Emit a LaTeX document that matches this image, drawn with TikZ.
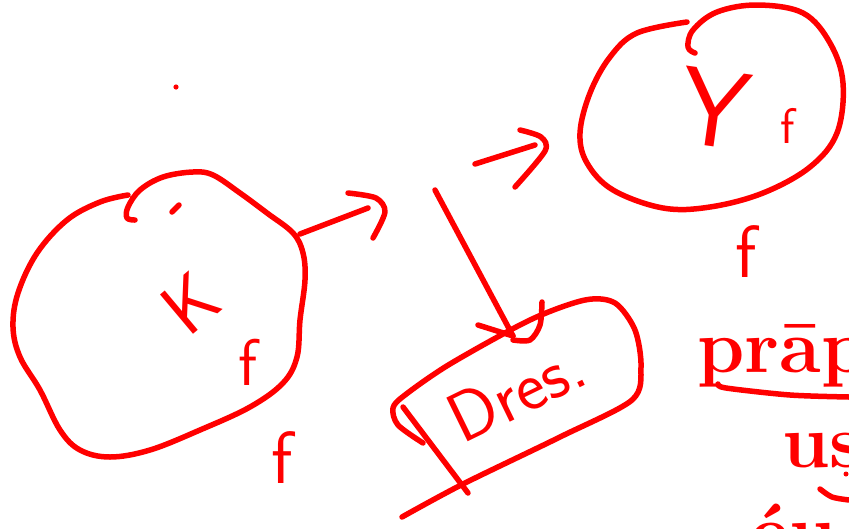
\documentclass[tikz,border=0pt]{standalone}
\usepackage{xcolor}
\usepackage{tikz}
\usetikzlibrary{positioning}
\definecolor{PENred}{RGB}{255,0,0}
\tikzset{
  pen/.style={draw=PENred, line width=5.5pt, line cap=round, line join=round},
  hand/.style={text=PENred, inner sep=0pt, font=\sffamily\fontsize{#1}{#1}\selectfont},
  print/.style={text=PENred, inner sep=0pt, anchor=base west, font=\bfseries\fontsize{76}{76}\selectfont}
}

\begin{document}
\begin{tikzpicture}[x=1pt, y=-1pt]
        \useasboundingbox (0,0) rectangle (849,528);
        % K blob
        \draw[pen] plot[smooth, tension=0.6] coordinates {(128,195) (100,202) (67,220) (37,253) (18,293)
          (13,327) (20,357) (40,390) (60,430) (80,450) (110,457) (150,450) (200,430) (250,407)
          (283,383) (297,357) (300,320) (305,280) (303,253) (293,233) (267,213) (240,193) (213,175)
          (193,172) (163,177) (140,190) (128,207) (127,218) (135,220)};
        \draw[pen] (172,212) -- (179,205);
        \fill[PENred] (176,87) circle (2.6pt);
        \node[hand=74, rotate=40] (klabel) at (190,303) {K};
        \node[hand=66] (ksub) at (248,362) {f};
        \node[hand=74] (kf) at (282,458) {f};
        % Y blob
        \draw[pen] plot[smooth, tension=0.6] coordinates {(687,22) (637,33) (610,57) (590,93) (580,133)
          (587,163) (613,190) (663,208) (710,207) (763,193) (810,167) (837,133) (843,83) (830,43)
          (803,13) (757,5) (717,12) (693,30) (688,47) (695,53)};
        \node[hand=110, rotate=-8] (ylabel) at (715,108) {Y};
        \node[hand=50] (ysub) at (788,126) {f};
        \node[hand=74] (yf) at (746,252) {f};
        % arrows
        \coordinate (kout) at (300,234);
        \coordinate (ktip) at (368,208);
        \draw[pen] (kout) -- (ktip);
        \draw[pen] plot[smooth] coordinates {(348,193) (376,198) (385,212) (373,238)};
        \coordinate (ystart) at (475,164);
        \coordinate (ytip) at (535,145);
        \draw[pen] (ystart) -- (ytip);
        \draw[pen] plot[smooth] coordinates {(520,130) (541,137) (545,151) (515,187)};
        \coordinate (dstart) at (435,190);
        \coordinate (dtip) at (513,336);
        \draw[pen] (dstart) -- (dtip);
        \draw[pen] (478,325) -- (dtip);
        \draw[pen] plot[smooth] coordinates {(542,302) (540,325) (530,340) (513,340)};
        % Dres box
        \draw[pen] plot[smooth, tension=0.5] coordinates {(423,443) (398,425) (393,408) (405,395)
          (450,364) (530,320) (585,300) (615,303) (635,330) (641,367) (632,400) (560,437)
          (463,484) (402,517)};
        \draw[pen] (403,407) -- (468,493);
        \node[hand=70, rotate=26] (dres) at (516,392) {Dres.};
        % printed text
        \node[print] (word1) at (697,372) {prāp};
        \node[print] (word2) at (782,467) {us};
        \node[print] (word3) at (750,557) {éu};
        \draw[pen] plot[smooth] coordinates {(718,384) (726,388) (790,395) (849,397)};
        \draw[pen] plot[smooth] coordinates {(820,489) (832,497) (849,500)};
        \fill[PENred] (846,474) circle (2.5pt);
      \end{tikzpicture}
\end{document}
